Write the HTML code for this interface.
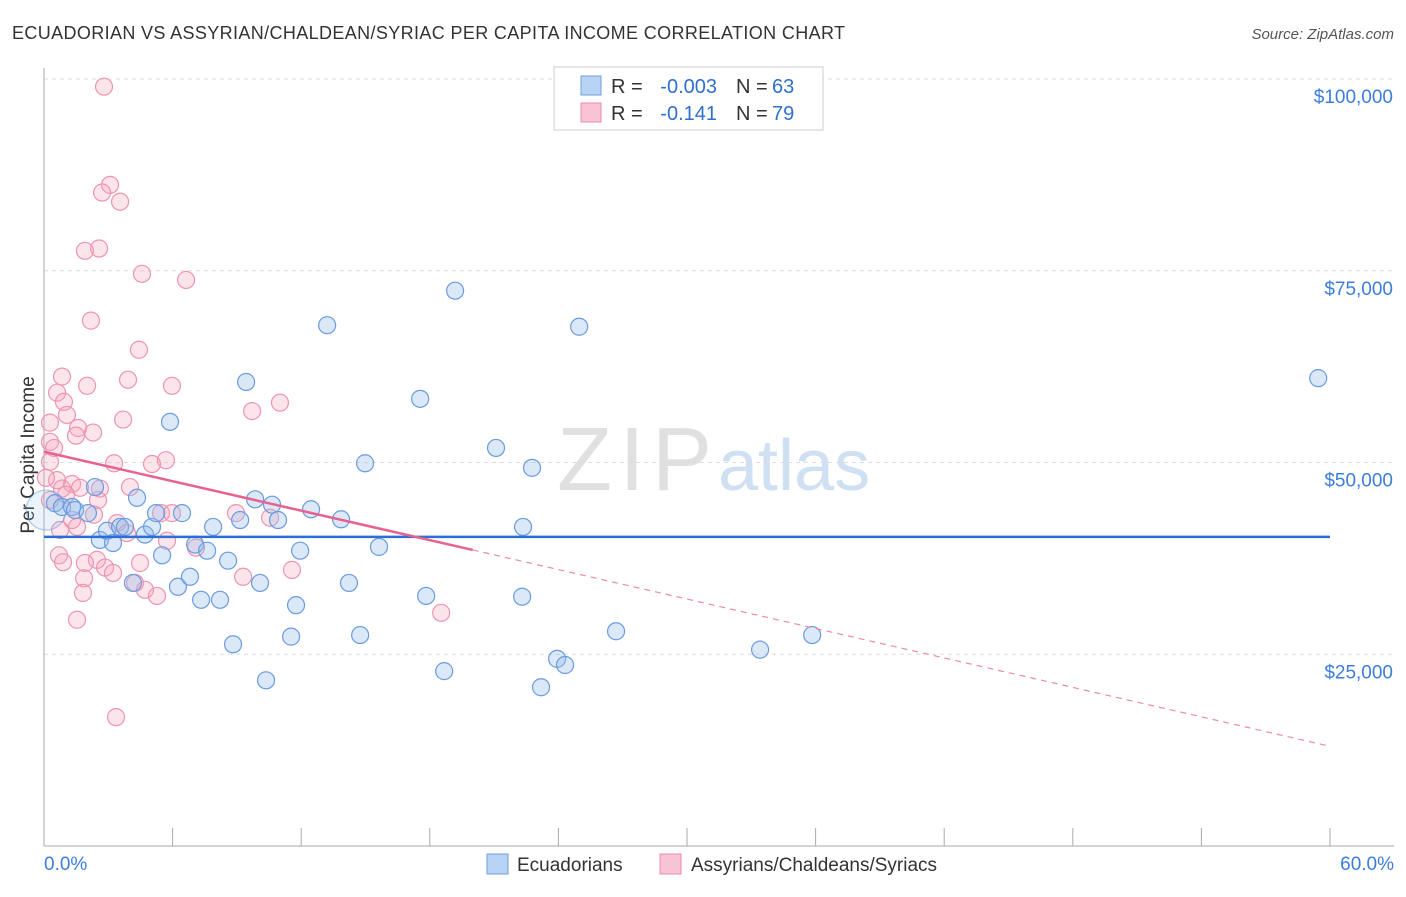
<!DOCTYPE html>
<html><head><meta charset="utf-8"><style>
body{margin:0;background:#fff;font-family:"Liberation Sans",sans-serif;}
svg text{font-family:"Liberation Sans",sans-serif;}
</style></head><body>
<svg id="c" width="1406" height="892" xmlns="http://www.w3.org/2000/svg">
<text x="12" y="39" font-size="18" fill="#333" textLength="833">ECUADORIAN VS ASSYRIAN/CHALDEAN/SYRIAC PER CAPITA INCOME CORRELATION CHART</text>
<text x="1394" y="39" font-size="15" fill="#555" font-style="italic" text-anchor="end">Source: ZipAtlas.com</text>
<text x="712" y="490" font-size="90" fill="#e0e0e0" text-anchor="end" font-family="Liberation Serif" textLength="155">ZIP</text>
<text x="718" y="490" font-size="72" fill="#d0e0f3">atlas</text>
<text transform="translate(34,455) rotate(-90)" font-size="19" fill="#333" text-anchor="middle">Per Capita Income</text>
<g id="grid"></g><g id="pts"></g><g id="lines"></g>
<g>
<rect x="554" y="67" width="269" height="63" fill="#fff" stroke="#ccc"/>
<rect x="581" y="76" width="20" height="19" fill="#b8d3f3" stroke="#6f9fdc"/>
<rect x="581" y="103" width="20" height="19" fill="#f8c3d4" stroke="#eb8aab"/>
<text x="611" y="93" font-size="20" fill="#333">R =</text>
<text x="717" y="93" font-size="20" fill="#2f6fd0" text-anchor="end">-0.003</text>
<text x="736" y="93" font-size="20" fill="#333">N =</text>
<text x="772" y="93" font-size="20" fill="#2f6fd0">63</text>
<text x="611" y="120" font-size="20" fill="#333">R =</text>
<text x="717" y="120" font-size="20" fill="#2f6fd0" text-anchor="end">-0.141</text>
<text x="736" y="120" font-size="20" fill="#333">N =</text>
<text x="772" y="120" font-size="20" fill="#2f6fd0">79</text>
</g>
<g>
<rect x="487" y="854" width="21" height="20" fill="#b8d3f3" stroke="#6f9fdc"/>
<text x="517" y="871" font-size="19" fill="#333">Ecuadorians</text>
<rect x="660" y="854" width="21" height="20" fill="#f8c3d4" stroke="#eb8aab"/>
<text x="691" y="871" font-size="19" fill="#333">Assyrians/Chaldeans/Syriacs</text>
</g>
<text x="44" y="870" font-size="19" fill="#3b7ddd">0.0%</text>
<text x="1394" y="870" font-size="19" fill="#3b7ddd" text-anchor="end">60.0%</text>
</svg>
<script>
const yTicks=[25000,50000,75000,100000];
const yTickLabels=["$25,000","$50,000","$75,000","$100,000"];
const blueX=[0.1,0.51,0.84,1.31,1.45,2.38,2.05,2.61,2.94,3.22,3.55,3.78,4.34,4.15,4.71,5.04,5.23,5.51,5.88,6.25,6.44,6.81,7.05,7.33,7.61,7.89,8.21,8.59,8.82,9.15,9.43,9.85,10.08,10.36,10.64,10.92,11.53,11.76,11.95,12.46,13.21,13.86,14.23,14.75,14.98,15.63,17.55,17.83,18.67,19.18,21.09,22.31,22.35,22.77,23.19,23.94,24.31,24.97,26.69,33.41,35.84,59.45];
const blueY=[43800,44700,44200,44200,43800,46800,43400,39900,41100,39500,41600,41600,45400,34300,40600,41600,43400,37900,55300,33800,43400,35100,39300,32100,38500,41600,32100,37200,26300,42500,60500,45200,34300,21600,44500,42500,27300,31400,38500,43900,67900,42600,34300,27500,49900,39000,58300,32600,22800,72400,51900,32500,41600,49300,20700,24400,23600,67700,28000,25600,27500,61000];
const pinkX=[2.80,3.08,2.71,3.55,2.57,1.91,4.57,6.63,2.19,4.43,0.84,3.92,5.97,2.01,11.01,9.71,0.61,0.93,1.07,3.69,0.28,1.59,2.29,1.49,0.28,0.47,5.69,5.04,3.27,0.28,0.61,1.31,2.61,1.68,0.84,4.01,1.03,2.52,2.33,1.31,5.46,5.97,8.96,10.55,1.54,3.41,3.87,0.75,5.74,7.09,0.70,2.47,1.91,0.89,2.85,3.22,4.48,9.29,11.57,1.87,4.25,4.71,5.27,1.82,1.54,18.53,3.36,0.09,0.28];
const pinkY=[99000,86200,85200,84000,77900,77600,74600,73800,68500,64700,61200,60800,60000,60000,57800,56700,59100,57900,56200,55600,55200,54500,53900,53500,52700,51900,50300,49800,49900,50100,47700,47200,46600,46700,46600,46800,45800,45100,43200,42500,43400,43400,43400,42800,41600,42100,40800,41200,39800,38900,37900,37300,36900,37000,36300,35600,36900,35100,36000,34900,34300,33400,32600,33000,29500,30400,16800,48000,45100];
const blueTrend=[40300,40300];
const pinkTrend=[51400,13000];
const pinkSolidEnd=20;
const X0=44,X1=1330,Y0=846;
const sx=v=>X0+(v/60)*(X1-X0);
const sy=v=>Y0-v*(767/100000);
const NS="http://www.w3.org/2000/svg";
function mk(tag,at,parent){const e=document.createElementNS(NS,tag);for(const k in at)e.setAttribute(k,at[k]);parent.appendChild(e);return e;}
const grid=document.getElementById('grid');
yTicks.forEach((t,i)=>{
 const l=mk('line',{x1:X0,x2:1394,y1:sy(t),y2:sy(t),stroke:'#ddd','stroke-dasharray':'4,4'},grid);
 
 
 const tx=mk('text',{x:1393,y:sy(t)+24,'font-size':19,fill:'#3b7ddd','text-anchor':'end'},grid);
 tx.textContent=yTickLabels[i];
 
 
});
const ax=mk('line',{x1:X0,x2:X0,y1:68,y2:Y0,stroke:'#aaa'},grid);


const bx=mk('line',{x1:X0,x2:1394,y1:Y0,y2:Y0,stroke:'#aaa'},grid);


for(let i=0;i<=10;i++){const t=mk('line',{x1:sx(i*6),x2:sx(i*6),y1:Y0,y2:Y0-18,stroke:'#aaa'},grid);
 
 }
const pts=document.getElementById('pts');
pinkX.forEach((x,i)=>{const c=mk('circle',{cx:sx(x),cy:sy(pinkY[i]),r:8.5,fill:'rgba(245,165,190,0.3)',stroke:'#ec95b2','stroke-width':1.2},pts);
 
 });
blueX.forEach((x,i)=>{const c=mk('circle',{cx:sx(x),cy:sy(blueY[i]),r:i==0?20:8.5,fill:i==0?'rgba(150,190,235,0.2)':'rgba(150,190,235,0.35)',stroke:i==0?'rgba(106,155,224,0.5)':'#6a9be0','stroke-width':1.2},pts);
 
 });
const lines=document.getElementById('lines');
const bl=mk('line',{x1:sx(0),x2:sx(60),y1:sy(blueTrend[0]),y2:sy(blueTrend[1]),stroke:'#2b6fd6','stroke-width':2.5},lines);


const py=x=>pinkTrend[0]+(pinkTrend[1]-pinkTrend[0])*x/60;
const ps=mk('line',{x1:sx(0),x2:sx(pinkSolidEnd),y1:sy(py(0)),y2:sy(py(pinkSolidEnd)),stroke:'#e8618f','stroke-width':2.5},lines);


const pd=mk('line',{x1:sx(pinkSolidEnd),x2:sx(60),y1:sy(py(pinkSolidEnd)),y2:sy(py(60)),stroke:'#ec8aab','stroke-width':1.2,'stroke-dasharray':'6,5'},lines);


</script>
</body></html>
